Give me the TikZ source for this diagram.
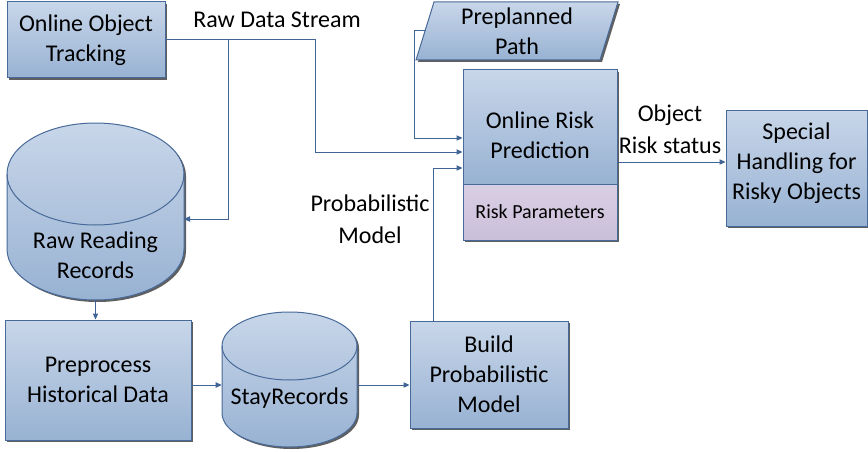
\documentclass[tikz,border=0pt]{standalone}
\usepackage{fontspec}
\setmainfont{Carlito}
\usetikzlibrary{arrows.meta,shadows,calc}
\definecolor{boxtop}{RGB}{200,214,233}
\definecolor{boxbot}{RGB}{152,178,211}
\definecolor{boxline}{RGB}{72,106,152}
\definecolor{partop}{RGB}{217,207,228}
\definecolor{parbot}{RGB}{202,191,217}
\definecolor{wirec}{RGB}{64,100,150}
\definecolor{shadowc}{RGB}{95,95,95}
\begin{document}
\begin{tikzpicture}[x=0.75pt,y=0.75pt,
  txt/.style={font=\fontsize{18}{22.5}\selectfont, align=center, text=black},
  lbl/.style={font=\fontsize{18}{24}\selectfont, align=center, text=black, inner sep=0pt},
  boxshadow/.style={drop shadow={shadow xshift=1.5pt, shadow yshift=-1.5pt, fill=shadowc, opacity=1}},
  bluefill/.style={draw=boxline, line width=0.75pt, top color=boxtop, bottom color=boxbot},
  bluebox/.style={bluefill, boxshadow, inner sep=0pt, txt},
  purplebox/.style={draw=boxline, line width=0.75pt, top color=partop, bottom color=parbot,
    boxshadow, inner sep=0pt, text=black, font=\fontsize{15}{18}\selectfont},
  wire/.style={draw=wirec, line width=0.75pt},
  flow/.style={wire, -{Triangle[length=4.5pt,width=4pt]}},
  area/.style={inner sep=0pt},
]
\useasboundingbox (0,0) rectangle (868,451);

% --- process boxes ---
\node[bluebox, minimum width=0.75*158pt, minimum height=0.75*76pt] (oot) at (86,411) {Online Object\\Tracking};
\node[bluebox, minimum width=0.75*186pt, minimum height=0.75*120pt] (pre) at (98,71) {Preprocess\\Historical Data};
\node[bluebox, minimum width=0.75*158pt, minimum height=0.75*107pt] (bpm) at (489,76.5) {Build\\Probabilistic\\Model};
\node[bluebox, minimum width=0.75*141pt, minimum height=0.75*116pt] (sh) at (796.5,283) {};
\node[txt] (shtext) at (796.5,288) {Special\\Handling for\\Risky Objects};

% --- risk prediction block with its parameter compartment ---
\node[bluebox, minimum width=0.75*154pt, minimum height=0.75*114pt] (orp) at (540,324) {};
\node[purplebox, minimum width=0.75*154pt, minimum height=0.75*56pt] (rp) at (540,239) {Risk Parameters};
\node[txt] (orptext) at (540,316) {Online Risk\\Prediction};

% --- data stores (cylinders) ---
\path[bluefill, boxshadow] (7,277) -- (7,202)
  arc[start angle=180, end angle=360, x radius=88.5, y radius=51] -- (184,277)
  arc[start angle=0, end angle=180, x radius=88.5, y radius=51] -- cycle;
\draw[draw=boxline, line width=0.75pt] (7,277) arc[start angle=180, end angle=360, x radius=88.5, y radius=51];
\node[area, minimum width=0.75*177pt, minimum height=0.75*177pt] (rrr) at (95.5,239.5) {};
\node[txt] (rrrtext) at (95.5,196) {Raw Reading\\Records};
\coordinate (rrrin) at (184,232);

\path[bluefill, boxshadow] (222,105) -- (222,38)
  arc[start angle=180, end angle=360, x radius=67.5, y radius=34] -- (357,105)
  arc[start angle=0, end angle=180, x radius=67.5, y radius=34] -- cycle;
\draw[draw=boxline, line width=0.75pt] (222,105) arc[start angle=180, end angle=360, x radius=67.5, y radius=34];
\node[area, minimum width=0.75*135pt, minimum height=0.75*135pt] (sr) at (289.5,71.5) {};
\node[txt] (srtext) at (289.5,53) {StayRecords};

% --- preplanned path (parallelogram input) ---
\path[bluefill, boxshadow] (434,449) -- (618,449) -- (600,391) -- (416,391) -- cycle;
\node[txt] (pp) at (517,420) {Preplanned\\Path};
\coordinate (ppin) at (425,420);

% --- connectors ---
\draw[flow] (oot.east) -- ++(150,0) |- (orp.west |- 0,299);
\draw[flow] (oot.east -| 228,0) |- (rrrin);
\draw[flow] (ppin) -- ++(-11,0) |- (orp.west |- 0,313);
\draw[flow] (bpm.north -| 433,0) |- (orp.west |- 0,283);
\draw[flow] (orp.east |- 0,289) -- (sh.west |- 0,289);
\draw[flow] (rrr.south) -- (rrr.south |- pre.north);
\draw[flow] (pre.east |- 0,66) -- (sr.west |- 0,66);
\draw[flow] (sr.east |- 0,66) -- (bpm.west |- 0,66);

% --- connector labels ---
\node[lbl] (rds) at (277,431) {Raw Data Stream};
\node[lbl] (pm) at (370,232) {Probabilistic\\Model};
\node[lbl] (ors) at (670,322) {Object\\Risk status};
\end{tikzpicture}
\end{document}
